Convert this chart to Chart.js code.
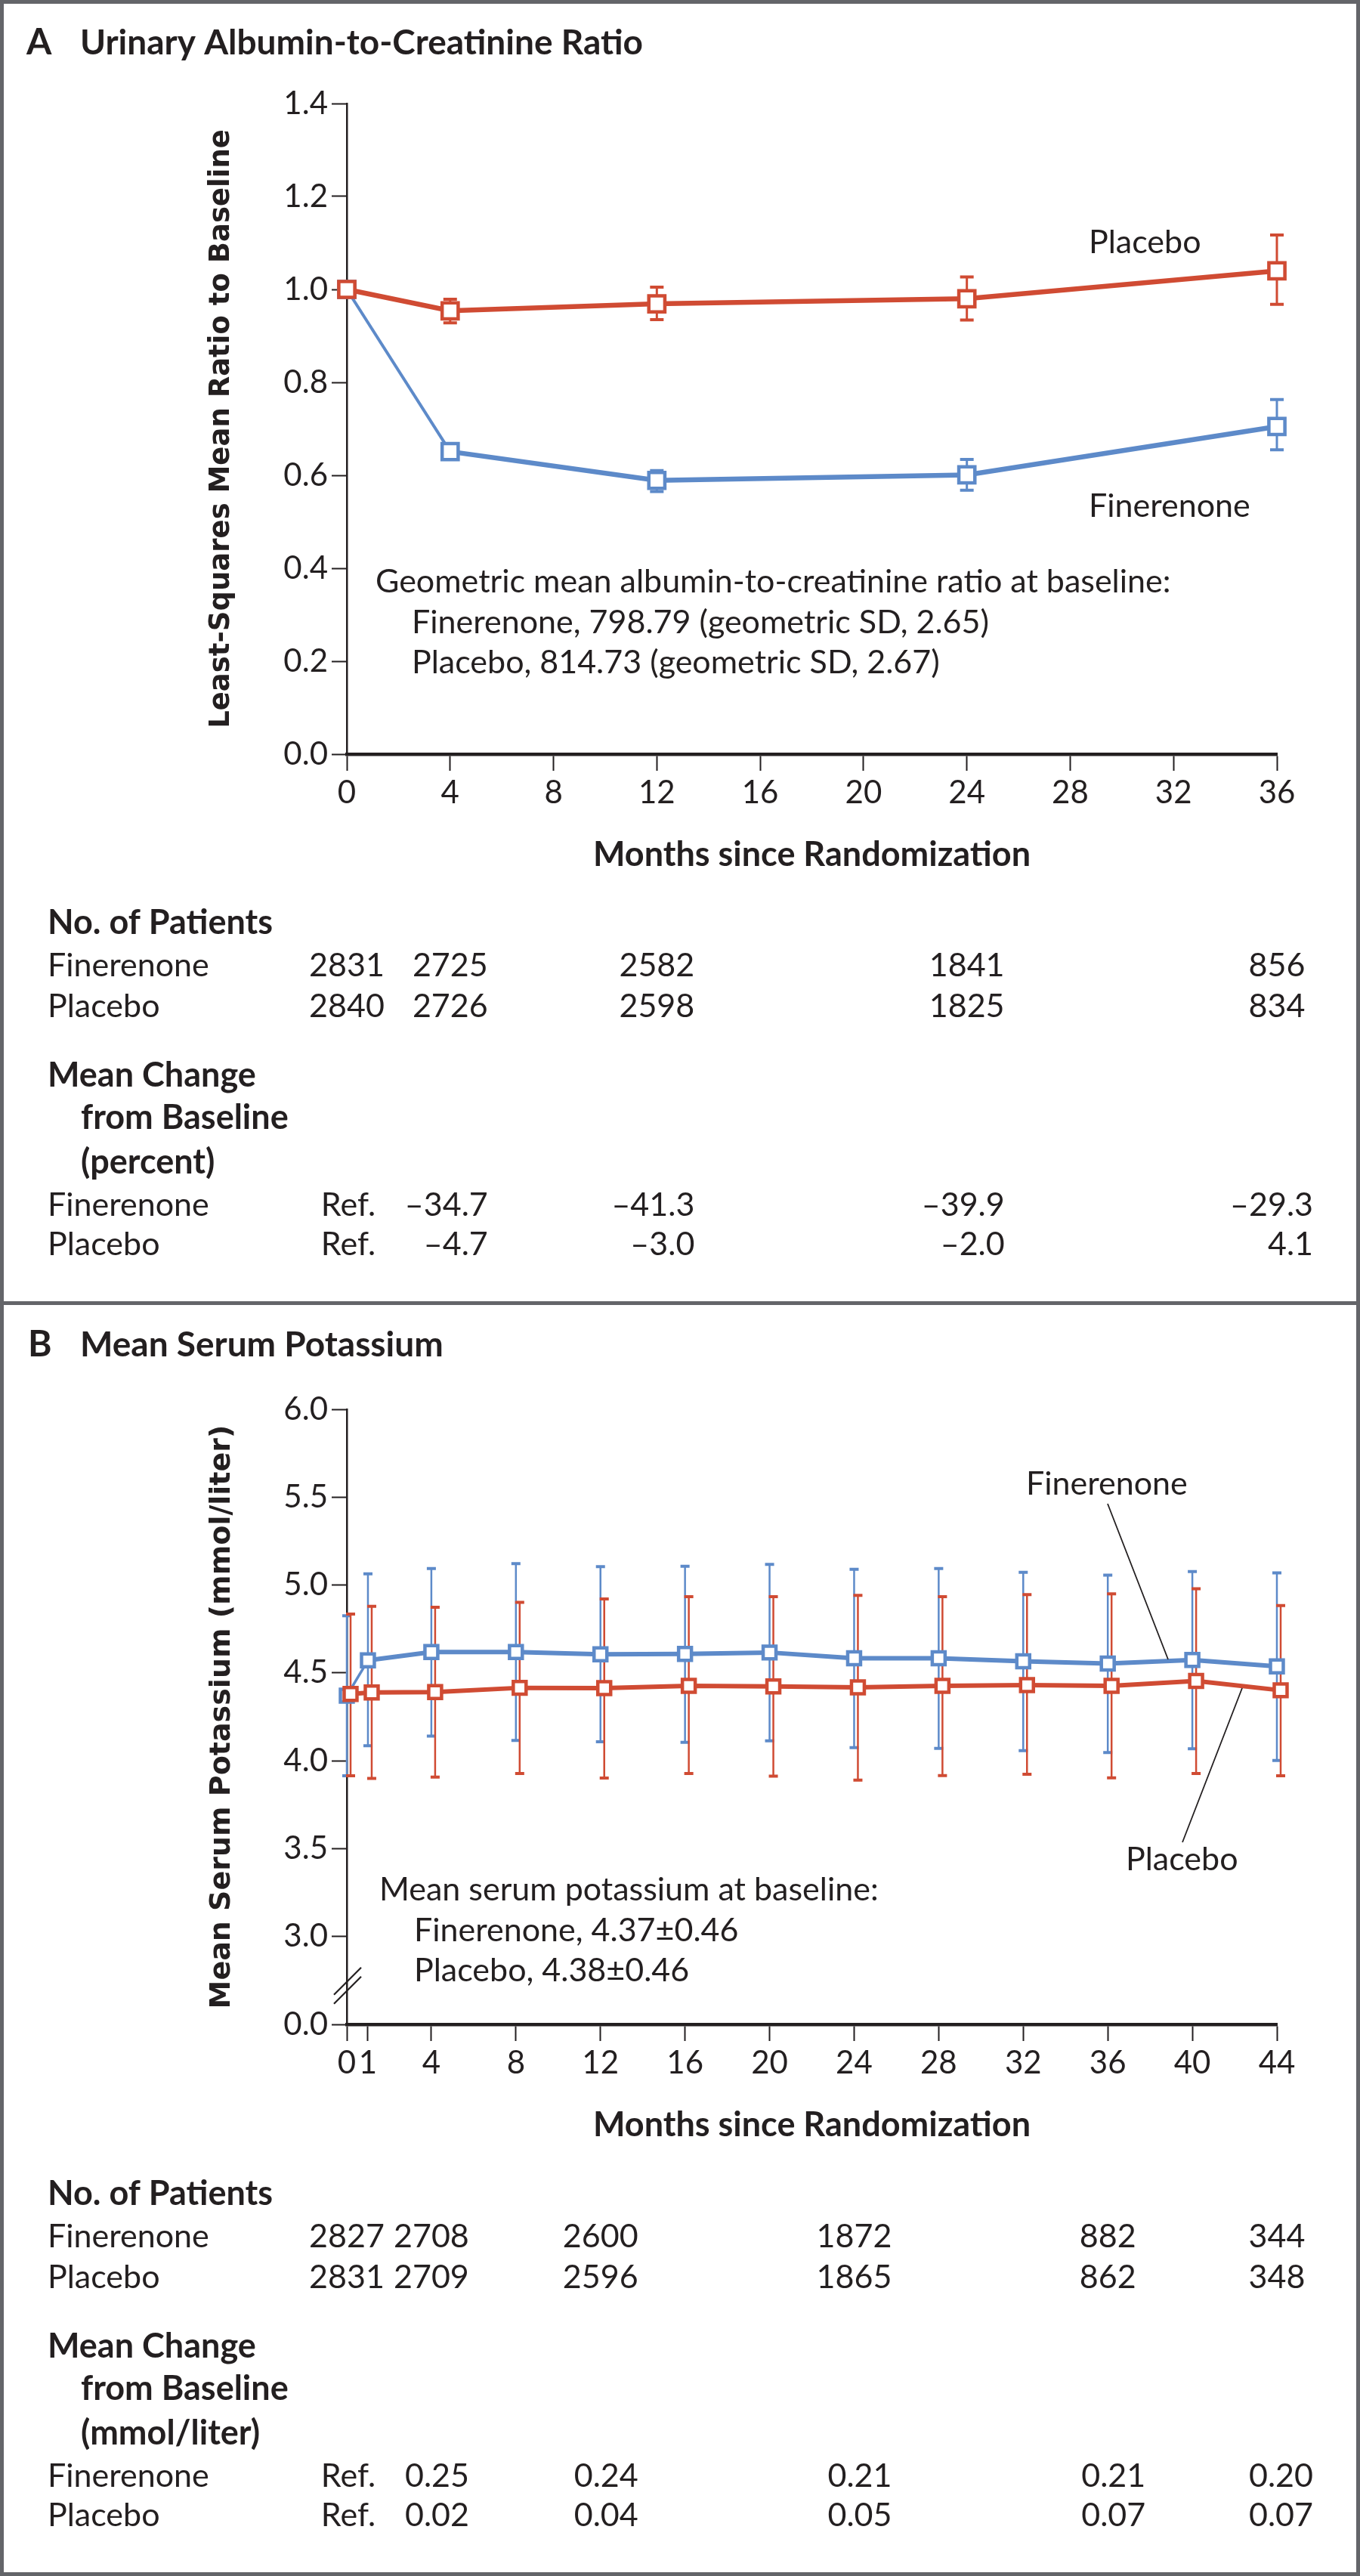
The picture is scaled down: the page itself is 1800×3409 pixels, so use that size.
<!DOCTYPE html>
<html>
<head>
<meta charset="utf-8">
<script src="https://cdn.jsdelivr.net/npm/chart.js@4.4.1/dist/chart.umd.min.js"></script>
<style>
  html, body { margin: 0; padding: 0; background: #fff; }
  canvas { position: absolute; left: 0; }
  #chartA { top: 0; }
  #chartB { top: 1725px; }
  #frame { position: absolute; left: 0; top: 0; width: 1800px; height: 3409px; box-sizing: border-box; border: 5px solid #646569; pointer-events: none; }
  #sep { position: absolute; left: 0; top: 1722px; width: 1800px; height: 5px; background: #646569; }
</style>
</head>
<body>
<canvas id="chartA" width="1800" height="1722"></canvas>
<canvas id="chartB" width="1800" height="1684"></canvas>
<div id="sep"></div>
<div id="frame"></div>
<script>
// Panel A: urinary albumin-to-creatinine ratio (ratio to baseline)
const uacrMonths = [0, 4, 12, 24, 36];
const uacrFinerenone = [1.0, 0.651, 0.589, 0.601, 0.705];
const uacrFinerenoneLow = [1.0, 0.638, 0.565, 0.568, 0.655];
const uacrFinerenoneHigh = [1.0, 0.664, 0.610, 0.634, 0.763];
const uacrPlacebo = [1.0, 0.954, 0.969, 0.980, 1.040];
const uacrPlaceboLow = [1.0, 0.928, 0.935, 0.934, 0.968];
const uacrPlaceboHigh = [1.0, 0.979, 1.005, 1.027, 1.117];
const uacrTableMonths = [0, 4, 12, 24, 36];
const uacrPatientsFinerenone = [2831, 2725, 2582, 1841, 856];
const uacrPatientsPlacebo = [2840, 2726, 2598, 1825, 834];
const uacrChangeFinerenone = [null, -34.7, -41.3, -39.9, -29.3];
const uacrChangePlacebo = [null, -4.7, -3.0, -2.0, 4.1];

// Panel B: mean serum potassium (mmol/liter), mean and SD bars
const kMonths = [0, 1, 4, 8, 12, 16, 20, 24, 28, 32, 36, 40, 44];
const kFinerenone = [4.37, 4.571, 4.619, 4.619, 4.606, 4.608, 4.616, 4.583, 4.583, 4.566, 4.553, 4.574, 4.537];
const kFinerenoneLow = [3.915, 4.085, 4.14, 4.116, 4.108, 4.105, 4.113, 4.075, 4.071, 4.058, 4.047, 4.068, 4.002];
const kFinerenoneHigh = [4.825, 5.064, 5.094, 5.122, 5.105, 5.107, 5.118, 5.089, 5.094, 5.072, 5.056, 5.077, 5.069];
const kPlacebo = [4.38, 4.389, 4.391, 4.415, 4.413, 4.426, 4.423, 4.418, 4.426, 4.431, 4.426, 4.454, 4.401];
const kPlaceboLow = [3.915, 3.900, 3.907, 3.928, 3.902, 3.928, 3.912, 3.890, 3.916, 3.923, 3.903, 3.928, 3.915];
const kPlaceboHigh = [4.835, 4.879, 4.874, 4.901, 4.921, 4.934, 4.934, 4.941, 4.934, 4.945, 4.950, 4.979, 4.883];
const kTicksX = [0, 1, 4, 8, 12, 16, 20, 24, 28, 32, 36, 40, 44];
const kTableMonths = [0, 4, 12, 24, 36, 44];
const kPatientsFinerenone = [2827, 2708, 2600, 1872, 882, 344];
const kPatientsPlacebo = [2831, 2709, 2596, 1865, 862, 348];
const kChangeFinerenone = [null, 0.25, 0.24, 0.21, 0.21, 0.20];
const kChangePlacebo = [null, 0.02, 0.04, 0.05, 0.07, 0.07];

const RED = '#d04b33';
const BLUE = '#5d8ac9';
const INK = '#231f20';
const FONT = 'Lato, "Open Sans", sans-serif';

Chart.defaults.font.family = FONT;
Chart.defaults.color = INK;

function toPoints(xs, ys) {
  return xs.map((x, i) => ({ x: x, y: ys[i] }));
}

function fmtChange(v, digits) {
  if (v === null) return 'Ref.';
  return (v < 0 ? '\u2013' : '') + Math.abs(v).toFixed(digits);
}

function txt(ctx, s, x, y, size, weight, align) {
  ctx.font = `${weight || 'normal'} ${size}px ${FONT}`;
  ctx.textAlign = align || 'left';
  ctx.textBaseline = 'middle';
  ctx.fillStyle = INK;
  ctx.fillText(s, x, y);
}

// error bars behind the lines, drawn from the same scales
const errorBars = {
  id: 'errorBars',
  beforeDatasetsDraw(chart) {
    const ctx = chart.ctx;
    const xs = chart.scales.x, ys = chart.scales.y;
    const sets = chart.data.datasets.slice().reverse();
    sets.forEach(ds => {
      if (!ds.errLow) return;
      const dx = ds.dx || 0;
      const cap = ds.capWidth / 2;
      ctx.save();
      ctx.strokeStyle = ds.borderColor;
      ds.data.forEach((p, j) => {
        const px = xs.getPixelForValue(p.x) + dx;
        const lo = ys.getPixelForValue(ds.errLow[j]);
        const hi = ys.getPixelForValue(ds.errHigh[j]);
        if (Math.abs(lo - hi) < 1) return;
        ctx.lineWidth = ds.errWidth;
        ctx.beginPath();
        ctx.moveTo(px, lo);
        ctx.lineTo(px, hi);
        ctx.stroke();
        ctx.lineWidth = ds.capThickness;
        ctx.beginPath();
        ctx.moveTo(px - cap, lo); ctx.lineTo(px + cap, lo);
        ctx.moveTo(px - cap, hi); ctx.lineTo(px + cap, hi);
        ctx.stroke();
      });
      ctx.restore();
    });
  }
};

// small horizontal shift so the two series sit side by side
const dodge = {
  id: 'dodge',
  beforeDatasetDraw(chart, args) {
    const dx = chart.data.datasets[args.index].dx;
    if (dx) { chart.ctx.save(); chart.ctx.translate(dx, 0); }
  },
  afterDatasetDraw(chart, args) {
    if (chart.data.datasets[args.index].dx) chart.ctx.restore();
  }
};

function drawTable(chart, t) {
  const ctx = chart.ctx;
  const xs = chart.scales.x;
  const cols = t.months.map(m => xs.getPixelForValue(m));
  txt(ctx, 'No. of Patients', 63, t.y0, 45, 'bold');
  txt(ctx, 'Finerenone', 63, t.y0 + 57, 43);
  txt(ctx, 'Placebo', 63, t.y0 + 111, 43);
  cols.forEach((cx, i) => {
    txt(ctx, String(t.patF[i]), cx, t.y0 + 57, 43, 'normal', 'center');
    txt(ctx, String(t.patP[i]), cx, t.y0 + 111, 43, 'normal', 'center');
  });
  txt(ctx, 'Mean Change', 63, t.y1, 45, 'bold');
  txt(ctx, 'from Baseline', 107, t.y1 + 56, 45, 'bold');
  txt(ctx, t.unit, 107, t.y1 + 115, 45, 'bold');
  txt(ctx, 'Finerenone', 63, t.y1 + 172, 43);
  txt(ctx, 'Placebo', 63, t.y1 + 224, 43);
  cols.forEach((cx, i) => {
    const f = fmtChange(t.chF[i], t.digits);
    const p = fmtChange(t.chP[i], t.digits);
    if (i === 0) {
      txt(ctx, f, cx + 2, t.y1 + 172, 43, 'normal', 'center');
      txt(ctx, p, cx + 2, t.y1 + 224, 43, 'normal', 'center');
    } else {
      const rx = Math.min(cx + 50, 1738);
      txt(ctx, f, rx, t.y1 + 172, 43, 'normal', 'right');
      txt(ctx, p, rx, t.y1 + 224, 43, 'normal', 'right');
    }
  });
}

function axisStyle(tickLength, borderWidth) {
  return {
    grid: { drawOnChartArea: false, drawTicks: true, tickLength: tickLength, tickWidth: 2, tickColor: INK },
    border: { display: true, color: INK, width: borderWidth }
  };
}

function seriesStyle(color, radius, lineWidth) {
  return {
    borderColor: color,
    backgroundColor: color,
    borderWidth: lineWidth,
    pointStyle: 'rect',
    pointRadius: radius,
    pointBorderWidth: 4.5,
    pointBorderColor: color,
    pointBackgroundColor: '#ffffff',
    tension: 0,
    clip: false
  };
}

// ---------- Panel A ----------
const panelAText = {
  id: 'panelAText',
  afterDraw(chart) {
    const ctx = chart.ctx;
    txt(ctx, 'A', 35, 57, 48, 'bold');
    txt(ctx, 'Urinary Albumin-to-Creatinine Ratio', 106, 57, 46, 'bold');
    txt(ctx, 'Placebo', 1441, 321, 43);
    txt(ctx, 'Finerenone', 1441, 670, 43);
    txt(ctx, 'Geometric mean albumin-to-creatinine ratio at baseline:', 497, 770, 43);
    txt(ctx, 'Finerenone, 798.79 (geometric SD, 2.65)', 545, 824, 43);
    txt(ctx, 'Placebo, 814.73 (geometric SD, 2.67)', 545, 877, 43);
    drawTable(chart, {
      months: uacrTableMonths, patF: uacrPatientsFinerenone, patP: uacrPatientsPlacebo,
      chF: uacrChangeFinerenone, chP: uacrChangePlacebo, digits: 1,
      unit: '(percent)', y0: 1221, y1: 1423
    });
  }
};

new Chart(document.getElementById('chartA'), {
  type: 'line',
  data: {
    datasets: [
      Object.assign(seriesStyle(RED, 15, 6.5), {
        label: 'Placebo',
        data: toPoints(uacrMonths, uacrPlacebo),
        errLow: uacrPlaceboLow, errHigh: uacrPlaceboHigh,
        errWidth: 3, capWidth: 18, capThickness: 4
      }),
      Object.assign(seriesStyle(BLUE, 15, 6.5), {
        label: 'Finerenone',
        data: toPoints(uacrMonths, uacrFinerenone),
        errLow: uacrFinerenoneLow, errHigh: uacrFinerenoneHigh,
        errWidth: 3, capWidth: 18, capThickness: 4,
        segment: { borderWidth: c => (c.p0DataIndex === 0 ? 4 : 6.5) }
      })
    ]
  },
  options: {
    responsive: false,
    devicePixelRatio: 1,
    animation: false,
    events: [],
    layout: { padding: { left: 271, right: 110, top: 137, bottom: 564 } },
    plugins: { legend: { display: false }, tooltip: { enabled: false } },
    scales: {
      x: Object.assign(axisStyle(22, 4.5), {
        type: 'linear', min: 0, max: 36,
        ticks: { stepSize: 4, padding: 4, font: { size: 42 }, color: INK, maxRotation: 0 },
        title: { display: true, text: 'Months since Randomization', padding: 0, color: INK, font: { size: 45, weight: 'bold' } },
        afterFit: s => { s.height = 160; }
      }),
      y: Object.assign(axisStyle(20, 2.5), {
        min: 0, max: 1.4,
        ticks: { stepSize: 0.2, padding: 5, font: { size: 42 }, color: INK, callback: v => v.toFixed(1) },
        title: { display: true, text: 'Least-Squares Mean Ratio to Baseline', padding: 0, color: INK, font: { family: '"DejaVu Sans"', size: 37, weight: 'bold' } },
        afterFit: s => { s.width = 188; }
      })
    }
  },
  plugins: [errorBars, dodge, panelAText]
});

// ---------- Panel B ----------
const panelBText = {
  id: 'panelBText',
  afterDraw(chart) {
    const ctx = chart.ctx;
    const area = chart.chartArea;
    const ys = chart.scales.y;
    txt(ctx, 'B', 37, 55, 48, 'bold');
    txt(ctx, 'Mean Serum Potassium', 106, 55, 46, 'bold');
    txt(ctx, 'Finerenone', 1358, 239, 43);
    txt(ctx, 'Placebo', 1490, 736, 43);
    ctx.save();
    ctx.strokeStyle = INK;
    ctx.lineWidth = 1.8;
    ctx.beginPath();
    ctx.moveTo(1466, 265); ctx.lineTo(1546, 471);
    ctx.moveTo(1644, 509); ctx.lineTo(1565, 713);
    ctx.stroke();
    // axis break between 0.0 and 3.0
    const cy = ys.getPixelForValue(2.72);
    const cx = area.left + 1;
    ctx.lineWidth = 2.2;
    ctx.beginPath();
    ctx.moveTo(cx - 18, cy + 12); ctx.lineTo(cx + 18, cy - 24);
    ctx.moveTo(cx - 18, cy + 24); ctx.lineTo(cx + 18, cy - 12);
    ctx.stroke();
    ctx.restore();
    txt(ctx, 'Mean serum potassium at baseline:', 502, 776, 43);
    txt(ctx, 'Finerenone, 4.37\u00b10.46', 548, 830, 43);
    txt(ctx, 'Placebo, 4.38\u00b10.46', 548, 883, 43);
    drawTable(chart, {
      months: kTableMonths, patF: kPatientsFinerenone, patP: kPatientsPlacebo,
      chF: kChangeFinerenone, chP: kChangePlacebo, digits: 2,
      unit: '(mmol/liter)', y0: 1178, y1: 1380
    });
  }
};

new Chart(document.getElementById('chartB'), {
  type: 'line',
  data: {
    datasets: [
      Object.assign(seriesStyle(RED, 12, 6), {
        label: 'Placebo',
        data: toPoints(kMonths, kPlacebo),
        errLow: kPlaceboLow, errHigh: kPlaceboHigh,
        errWidth: 2.5, capWidth: 12, capThickness: 4, dx: 5
      }),
      Object.assign(seriesStyle(BLUE, 12, 6), {
        label: 'Finerenone',
        data: toPoints(kMonths, kFinerenone),
        errLow: kFinerenoneLow, errHigh: kFinerenoneHigh,
        errWidth: 2.5, capWidth: 12, capThickness: 4,
        segment: { borderWidth: c => (c.p0DataIndex === 0 ? 3.5 : 6) }
      })
    ]
  },
  options: {
    responsive: false,
    devicePixelRatio: 1,
    animation: false,
    events: [],
    layout: { padding: { left: 271, right: 110, top: 140, bottom: 570 } },
    plugins: { legend: { display: false }, tooltip: { enabled: false } },
    scales: {
      x: Object.assign(axisStyle(22, 4.5), {
        type: 'linear', min: 0, max: 44,
        afterBuildTicks: s => { s.ticks = kTicksX.map(v => ({ value: v })); },
        ticks: { padding: 4, font: { size: 42 }, color: INK, maxRotation: 0, autoSkip: false },
        title: { display: true, text: 'Months since Randomization', padding: 0, color: INK, font: { size: 45, weight: 'bold' } },
        afterFit: s => { s.height = 160; }
      }),
      y: Object.assign(axisStyle(20, 2.5), {
        min: 2.5, max: 6.0,
        ticks: { stepSize: 0.5, padding: 5, font: { size: 42 }, color: INK, callback: v => (v === 2.5 ? '0.0' : v.toFixed(1)) },
        title: { display: true, text: 'Mean Serum Potassium (mmol/liter)', padding: 0, color: INK, font: { family: '"DejaVu Sans"', size: 38, weight: 'bold' } },
        afterFit: s => { s.width = 188; }
      })
    }
  },
  plugins: [errorBars, dodge, panelBText]
});
</script>
</body>
</html>
